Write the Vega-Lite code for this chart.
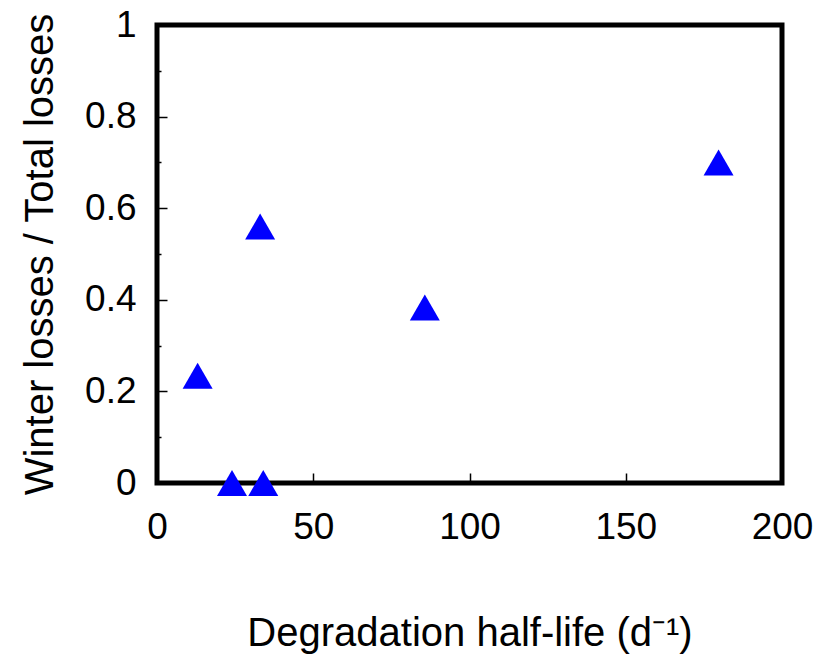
{
  "$schema": "https://vega.github.io/schema/vega-lite/v6.json",
  "width": 625,
  "height": 458,
  "autosize": "none",
  "padding": {"left": 157, "top": 25, "right": 42, "bottom": 176},
  "background": "white",
  "config": {
    "view": {"stroke": "black", "strokeWidth": 5},
    "font": "Liberation Sans",
    "axis": {"grid": false, "domain": false, "tickColor": "black", "tickWidth": 1.5, "labelColor": "black", "titleColor": "black", "labelFont": "Liberation Sans", "titleFont": "Liberation Sans", "titleFontWeight": "normal"}
  },
  "data": {
    "values": [
      {"halflife": 13, "ratio": 0.234},
      {"halflife": 24, "ratio": 0.0},
      {"halflife": 34, "ratio": 0.0},
      {"halflife": 33, "ratio": 0.56},
      {"halflife": 85.7, "ratio": 0.383},
      {"halflife": 179.7, "ratio": 0.70}
    ]
  },
  "layer": [
    {
      "mark": {"type": "point", "shape": "triangle-up", "filled": true, "color": "#0000ff", "size": 900, "opacity": 1, "strokeWidth": 0},
      "encoding": {
        "x": {
          "field": "halflife", "type": "quantitative",
          "scale": {"domain": [0, 200], "nice": false, "zero": false},
          "axis": {"values": [0, 50, 100, 150, 200], "tickSize": -10, "labelFontSize": 37, "labelPadding": 36, "labelFlush": false, "title": "Degradation half-life (d⁻¹)", "titleFontSize": 40, "titlePadding": 68}
        },
        "y": {
          "field": "ratio", "type": "quantitative",
          "scale": {"domain": [0, 1], "nice": false},
          "axis": {"orient": "left", "values": [0, 0.2, 0.4, 0.6, 0.8, 1], "tickSize": -10, "labelFontSize": 37, "labelPadding": 31, "labelFlush": false, "labelExpr": "datum.value == 0 || datum.value == 1 ? format(datum.value, 'd') : format(datum.value, '.1f')", "title": "Winter losses / Total losses", "titleFontSize": 40, "titlePadding": 24}
        }
      }
    },
    {
      "mark": {"type": "point", "opacity": 0},
      "encoding": {
        "y": {
          "field": "ratio", "type": "quantitative",
          "axis": {"orient": "left", "values": [0.1, 0.3, 0.5, 0.7, 0.9], "tickSize": -4, "labels": false, "title": null}
        }
      }
    }
  ],
  "resolve": {"axis": {"y": "independent"}}
}
